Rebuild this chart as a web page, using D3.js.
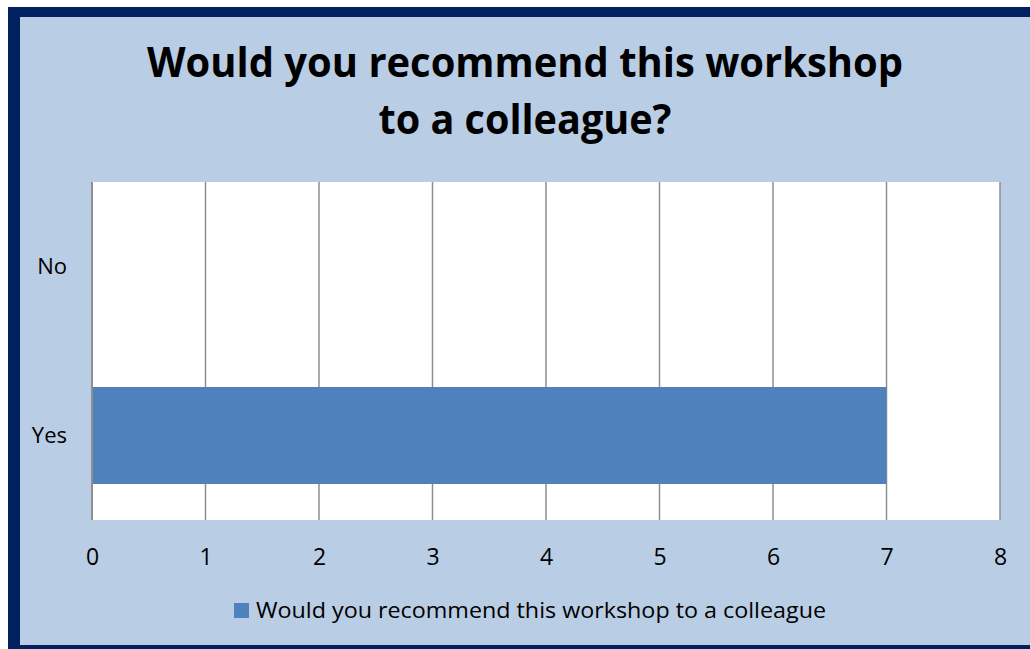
<!DOCTYPE html>
<html>
<head>
<meta charset="utf-8">
<script src="https://d3js.org/d3.v7.min.js"></script>
<style>
  body { margin: 0; background: #fff; }
  svg text { font-family: "Open Sans", "DejaVu Sans", sans-serif; fill: #000; }
  .title { font-weight: bold; font-size: 41px; }
  .legend-lbl { font-size: 21px; }
</style>
</head>
<body>
<div id="chart"></div>
<script>
  // chart data
  let titleLines = ["Would you recommend this workshop", "to a colleague?"];
  let categories = ["No", "Yes"];
  let values = [0, 7];
  let xTicks = [0, 1, 2, 3, 4, 5, 6, 7, 8];
  let seriesName = "Would you recommend this workshop to a colleague";

  let W = 1030, H = 649;
  let plot = {left: 92, right: 1000, top: 182, bottom: 520};

  let svg = d3.select("#chart").append("svg")
    .attr("width", W)
    .attr("height", H);

  // frame
  svg.append("rect")
    .attr("x", 8).attr("y", 7)
    .attr("width", W).attr("height", H)
    .attr("fill", "#002060");
  svg.append("rect")
    .attr("x", 20).attr("y", 17)
    .attr("width", W).attr("height", 628)
    .attr("fill", "#b9cde5");

  // title
  svg.selectAll(".title")
    .data(titleLines)
    .enter().append("text")
    .attr("class", "title")
    .attr("x", 525)
    .attr("y", (d, i) => 77 + i * 57)
    .attr("text-anchor", "middle")
    .attr("textLength", (d, i) => i === 0 ? 756 : 293)
    .attr("lengthAdjust", "spacingAndGlyphs")
    .text(d => d);

  let x = d3.scaleLinear()
    .domain([0, 8])
    .range([plot.left, plot.right]);

  let y = d3.scaleBand()
    .domain(categories)
    .range([plot.top, plot.bottom])
    .paddingInner(0.426)
    .paddingOuter(0.213);

  // plot area
  svg.append("rect")
    .attr("x", plot.left).attr("y", plot.top)
    .attr("width", plot.right - plot.left)
    .attr("height", plot.bottom - plot.top)
    .attr("fill", "#fff");

  // gridlines
  svg.append("g")
    .selectAll("line")
    .data(xTicks.slice(1))
    .enter().append("line")
    .attr("x1", d => x(d)).attr("x2", d => x(d))
    .attr("y1", plot.top).attr("y2", plot.bottom)
    .attr("stroke", "#8e8e8e")
    .attr("stroke-width", 1.5);

  // bars
  svg.append("g")
    .selectAll("rect")
    .data(categories)
    .enter().append("rect")
    .attr("x", x(0))
    .attr("y", d => y(d))
    .attr("width", (d, i) => x(values[i]) - x(0))
    .attr("height", y.bandwidth())
    .attr("fill", "#4f81bd");

  // category axis line
  svg.append("line")
    .attr("x1", x(0)).attr("x2", x(0))
    .attr("y1", plot.top).attr("y2", plot.bottom)
    .attr("stroke", "#8e8e8e")
    .attr("stroke-width", 2);

  // x axis
  let xAxis = d3.axisBottom(x)
    .tickValues(xTicks)
    .tickSize(0)
    .tickPadding(0);
  let gx = svg.append("g")
    .attr("transform", "translate(0," + plot.bottom + ")")
    .call(xAxis);
  gx.select(".domain").remove();
  gx.selectAll("text")
    .attr("dy", null)
    .attr("y", 45)
    .style("font-size", "23px")
    .attr("fill", "#000");

  // y axis
  let yAxis = d3.axisLeft(y)
    .tickSize(0)
    .tickPadding(0);
  let gy = svg.append("g")
    .attr("transform", "translate(67,0)")
    .call(yAxis);
  gy.select(".domain").remove();
  gy.selectAll("text")
    .style("font-size", "22px")
    .attr("fill", "#000");

  // legend
  let legend = svg.append("g").attr("transform", "translate(234,603)");
  legend.append("rect")
    .attr("width", 15).attr("height", 15)
    .attr("fill", "#4f81bd");
  legend.append("text")
    .attr("class", "legend-lbl")
    .attr("x", 22)
    .attr("y", 15)
    .attr("textLength", 570)
    .attr("lengthAdjust", "spacingAndGlyphs")
    .text(seriesName);
</script>
</body>
</html>
